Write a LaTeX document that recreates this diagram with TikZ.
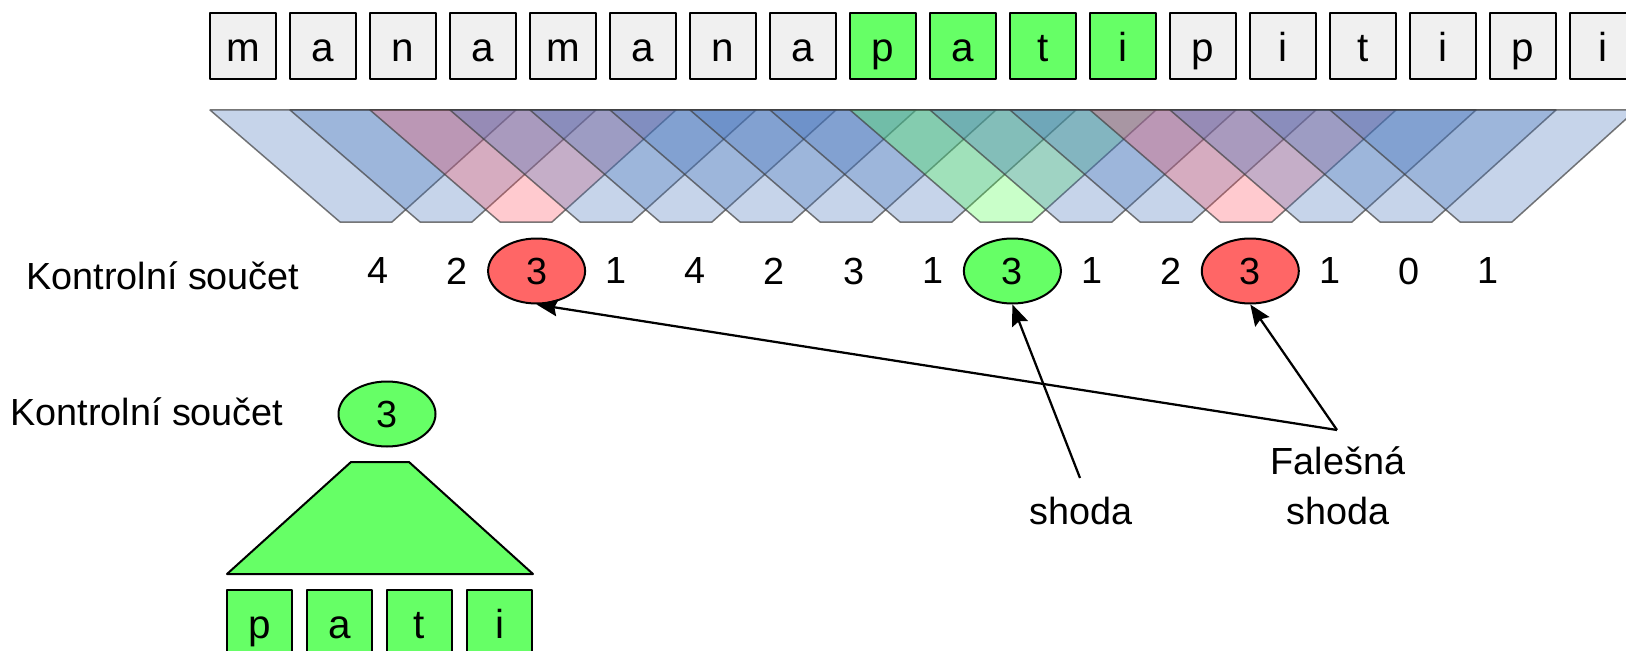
\documentclass[tikz,border=0pt]{standalone}
\usepackage{fontspec}
\setmainfont{Liberation Sans}
\usetikzlibrary{arrows.meta,shapes.geometric}
\definecolor{boxgray}{RGB}{240,240,240}
\definecolor{hashgreen}{RGB}{102,255,102}
\definecolor{hashred}{RGB}{255,102,102}
\definecolor{bandblue}{RGB}{65,112,185}
\definecolor{bandred}{RGB}{255,80,95}
\definecolor{bandgreen}{RGB}{75,255,75}

\begin{document}
\begin{tikzpicture}[>={Stealth[length=.42cm,width=.34cm,inset=.06cm]},line join=round,
 chr/.style={draw,line width=.04cm,minimum size=1.32cm,inner sep=0pt,
  text height=.64cm,text depth=0cm,font=\fontsize{23}{27}\selectfont},
 hit/.style={ellipse,line width=.04cm,minimum width=1.94cm,minimum height=1.3cm,
  inner sep=0pt,font=\fontsize{21.5}{25}\selectfont},
 lbl/.style={inner sep=0pt,align=center,font=\fontsize{21.5}{28.3}\selectfont},
 win/.style={draw=black!75,line width=.03cm,fill opacity=.3,draw opacity=.7}]
\useasboundingbox (0,0) rectangle (32.52,-13.02);
\clip (0,0) rectangle (32.52,-13.02);
% text
\foreach \ch/\fc [count=\i from 0] in {m/boxgray,a/boxgray,n/boxgray,a/boxgray,
 m/boxgray,a/boxgray,n/boxgray,a/boxgray,p/hashgreen,a/hashgreen,t/hashgreen,
 i/hashgreen,p/boxgray,i/boxgray,t/boxgray,i/boxgray,p/boxgray,i/boxgray}
 \node[chr,fill=\fc] (t\i) at ({4.86+1.6*\i},-.92) {\ch};
% rolling windows
\foreach \wc [count=\i from 0] in {bandblue,bandblue,bandred,bandblue,bandblue,
 bandblue,bandblue,bandblue,bandgreen,bandblue,bandblue,bandred,bandblue,
 bandblue,bandblue}
 \filldraw[win,fill=\wc] ({4.2+1.6*\i},-2.2) --({10.32+1.6*\i},-2.2)
  --({7.84+1.6*\i},-4.44) --({6.8+1.6*\i},-4.44) --cycle;
% checksums
\node[lbl,anchor=base west] (sumtop) at (.52,-5.78) {Kontrolní součet};
\foreach \v/\c/\d [count=\i from 0] in {4/none/none,2/none/none,3/hashred/black,
 1/none/none,4/none/none,2/none/none,3/none/none,1/none/none,3/hashgreen/black,
 1/none/none,2/none/none,3/hashred/black,1/none/none,0/none/none,1/none/none}
 \node[hit,fill=\c,draw=\d] (c\i) at ({7.56+1.586*\i},-5.42) {\v};
% pattern
\node[lbl,anchor=base west] (sumbot) at (.2,-8.5) {Kontrolní součet};
\node[hit,draw,fill=hashgreen] (pat) at (7.74,-8.28) {3};
\filldraw[fill=hashgreen,line width=.04cm] (7.02,-9.24) --(8.18,-9.24)
 --(10.66,-11.48) --(4.54,-11.48) --cycle;
\foreach \ch [count=\j from 0] in {p,a,t,i}
 \node[chr,fill=hashgreen,minimum size=1.3cm] (p\j) at ({5.19+1.6*\j},-12.45) {\ch};
% hits
\node[lbl,anchor=south] (match) at (21.62,-10.5) {shoda};
\node[lbl,anchor=south] (fake) at (26.76,-10.5) {Falešná\\shoda};
\coordinate (matchtail) at (21.6,-9.56);
\coordinate (faketail) at (26.74,-8.6);
\draw[->,line width=.045cm] (matchtail) -- (c8.south);
\draw[->,line width=.045cm] (faketail) -- (c11.south);
\draw[->,line width=.045cm] (faketail) -- (c2.south);
\end{tikzpicture}
\end{document}
